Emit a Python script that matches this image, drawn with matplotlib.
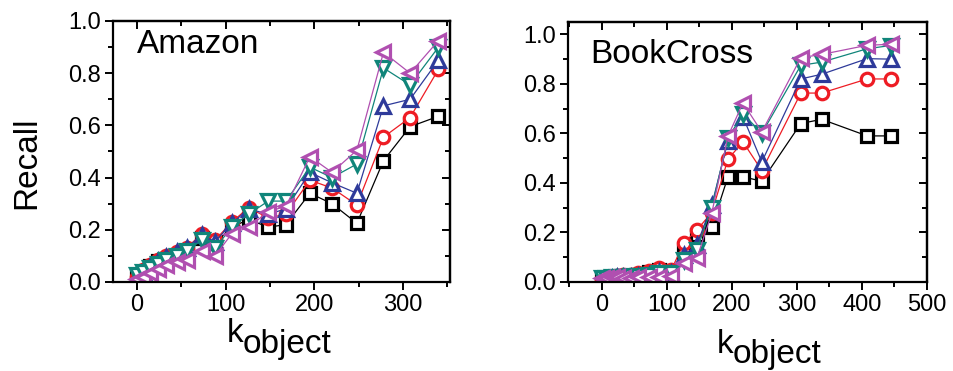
import numpy as np
import matplotlib
matplotlib.use('Agg')
import matplotlib.pyplot as plt
from matplotlib.ticker import MultipleLocator

plt.rcParams['font.family'] = ['Liberation Sans', 'DejaVu Sans']

# ================================================================
# Data
# ================================================================

amazon_k = [0, 7, 15, 24, 33, 45, 56, 73, 88, 107, 126,
            148, 168, 195, 220, 248, 278, 308, 340]
amazon_black = [0.02, 0.04, 0.06, 0.08, 0.09, 0.10, 0.12, 0.17, 0.15, 0.21, 0.24,
                0.21, 0.22, 0.34, 0.30, 0.225, 0.465, 0.595, 0.635]
amazon_red = [0.02, 0.045, 0.065, 0.085, 0.10, 0.115, 0.13, 0.185, 0.16, 0.23, 0.285,
              0.245, 0.26, 0.39, 0.36, 0.295, 0.555, 0.63, 0.815]
amazon_blue = [0.02, 0.04, 0.06, 0.08, 0.095, 0.115, 0.13, 0.18, 0.155, 0.225, 0.28,
               0.26, 0.28, 0.42, 0.38, 0.34, 0.675, 0.70, 0.85]
amazon_teal = [0.025, 0.04, 0.055, 0.07, 0.085, 0.10, 0.12, 0.16, 0.13, 0.21, 0.26,
               0.31, 0.31, 0.44, 0.40, 0.452, 0.82, 0.755, 0.90]
amazon_purple = [0.01, 0.02, 0.035, 0.05, 0.065, 0.075, 0.085, 0.12, 0.10, 0.185, 0.21,
                 0.27, 0.29, 0.48, 0.42, 0.505, 0.88, 0.80, 0.925]

book_k = [0, 7, 15, 24, 33, 45, 56, 73, 88, 107, 126,
          146, 169, 194, 217, 246, 306, 338, 408, 444]
book_black = [0.01, 0.015, 0.02, 0.02, 0.025, 0.025, 0.03, 0.04, 0.05, 0.045, 0.12,
              0.19, 0.223, 0.425, 0.425, 0.407, 0.64, 0.657, 0.59, 0.59]
book_red = [0.01, 0.015, 0.02, 0.025, 0.03, 0.03, 0.035, 0.045, 0.055, 0.05, 0.156,
            0.21, 0.28, 0.496, 0.566, 0.45, 0.763, 0.763, 0.82, 0.82]
book_blue = [0.01, 0.01, 0.015, 0.02, 0.02, 0.02, 0.025, 0.03, 0.04, 0.035, 0.109,
             0.149, 0.31, 0.57, 0.667, 0.485, 0.82, 0.839, 0.902, 0.90]
book_teal = [0.015, 0.015, 0.02, 0.02, 0.02, 0.025, 0.025, 0.03, 0.035, 0.035, 0.09,
             0.13, 0.30, 0.58, 0.68, 0.60, 0.875, 0.888, 0.942, 0.955]
book_purple = [0.015, 0.015, 0.02, 0.02, 0.015, 0.015, 0.02, 0.02, 0.02, 0.025, 0.075,
               0.095, 0.277, 0.589, 0.723, 0.606, 0.906, 0.919, 0.956, 0.96]

# ================================================================
# Styles
# ================================================================

styles = [
    ('#000000', 's', 8),
    ('#EE1C24', 'o', 9),
    ('#2E3A9A', '^', 10),
    ('#10857A', 'v', 10),
    ('#B04FB0', '<', 10),
]


def draw_panel(ax, k, series, xlim, ylim, title, title_pos):
    for (color, marker, ms), vals in zip(styles, series):
        ax.plot(k, vals, color=color, linewidth=0.9, marker=marker,
                markersize=ms, markerfacecolor='white',
                markeredgecolor=color, markeredgewidth=2.3)

    ax.set_xlim(*xlim)
    ax.set_ylim(*ylim)
    ax.xaxis.set_major_locator(MultipleLocator(100))
    ax.xaxis.set_minor_locator(MultipleLocator(50))
    ax.yaxis.set_major_locator(MultipleLocator(0.2))
    ax.yaxis.set_minor_locator(MultipleLocator(0.1))
    ax.yaxis.set_major_formatter(matplotlib.ticker.FormatStrFormatter('%.1f'))

    for sp in ax.spines.values():
        sp.set_linewidth(1.6)

    ax.tick_params(which='both', direction='out', width=1.4, labelsize=17,
                   top=False, right=False)
    ax.tick_params(which='major', length=5.5, pad=3)
    ax.tick_params(which='minor', length=3.5)

    # top / right ticks point inward
    top = ax.secondary_xaxis('top')
    top.xaxis.set_major_locator(MultipleLocator(100))
    top.xaxis.set_minor_locator(MultipleLocator(50))
    top.tick_params(which='both', direction='in', width=1.4, labeltop=False)
    top.tick_params(which='major', length=5.5)
    top.tick_params(which='minor', length=3.5)
    top.spines['top'].set_linewidth(1.6)

    right = ax.secondary_yaxis('right')
    right.yaxis.set_major_locator(MultipleLocator(0.2))
    right.yaxis.set_minor_locator(MultipleLocator(0.1))
    right.tick_params(which='both', direction='in', width=1.4, labelright=False)
    right.tick_params(which='major', length=5.5)
    right.tick_params(which='minor', length=3.5)
    right.spines['right'].set_linewidth(1.6)

    ax.text(title_pos[0], title_pos[1], title, transform=ax.transAxes,
            fontsize=24, ha='left', va='baseline')


fig = plt.figure(figsize=(9.54, 3.71), dpi=100)

W, H = 954, 371
ax1 = fig.add_axes([113 / W, 1 - 282 / H, (450 - 113) / W, (282 - 21) / H])
ax2 = fig.add_axes([568 / W, 1 - 282 / H, (927 - 568) / W, (282 - 22) / H])

draw_panel(ax1, amazon_k,
           [amazon_black, amazon_red, amazon_blue, amazon_teal, amazon_purple],
           (-27, 353), (0, 1.0), 'Amazon', (0.07, 0.876))
draw_panel(ax2, book_k,
           [book_black, book_red, book_blue, book_teal, book_purple],
           (-52, 500), (0, 1.05), 'BookCross', (0.061, 0.841))

# y label
fig.text(27 / W, 1 - 163 / H, 'Recall', rotation=90, fontsize=24,
         ha='center', va='center')

# x labels: k with lowered "object"
for xj, yk, yo in [(243, 342, 353), (733, 352.7, 363.5)]:
    fig.text(xj / W, 1 - yk / H, 'k', fontsize=24, ha='right', va='baseline')
    fig.text(xj / W, 1 - yo / H, 'object', fontsize=24, ha='left', va='baseline')

plt.savefig('out.png', dpi=100)
plt.close()
